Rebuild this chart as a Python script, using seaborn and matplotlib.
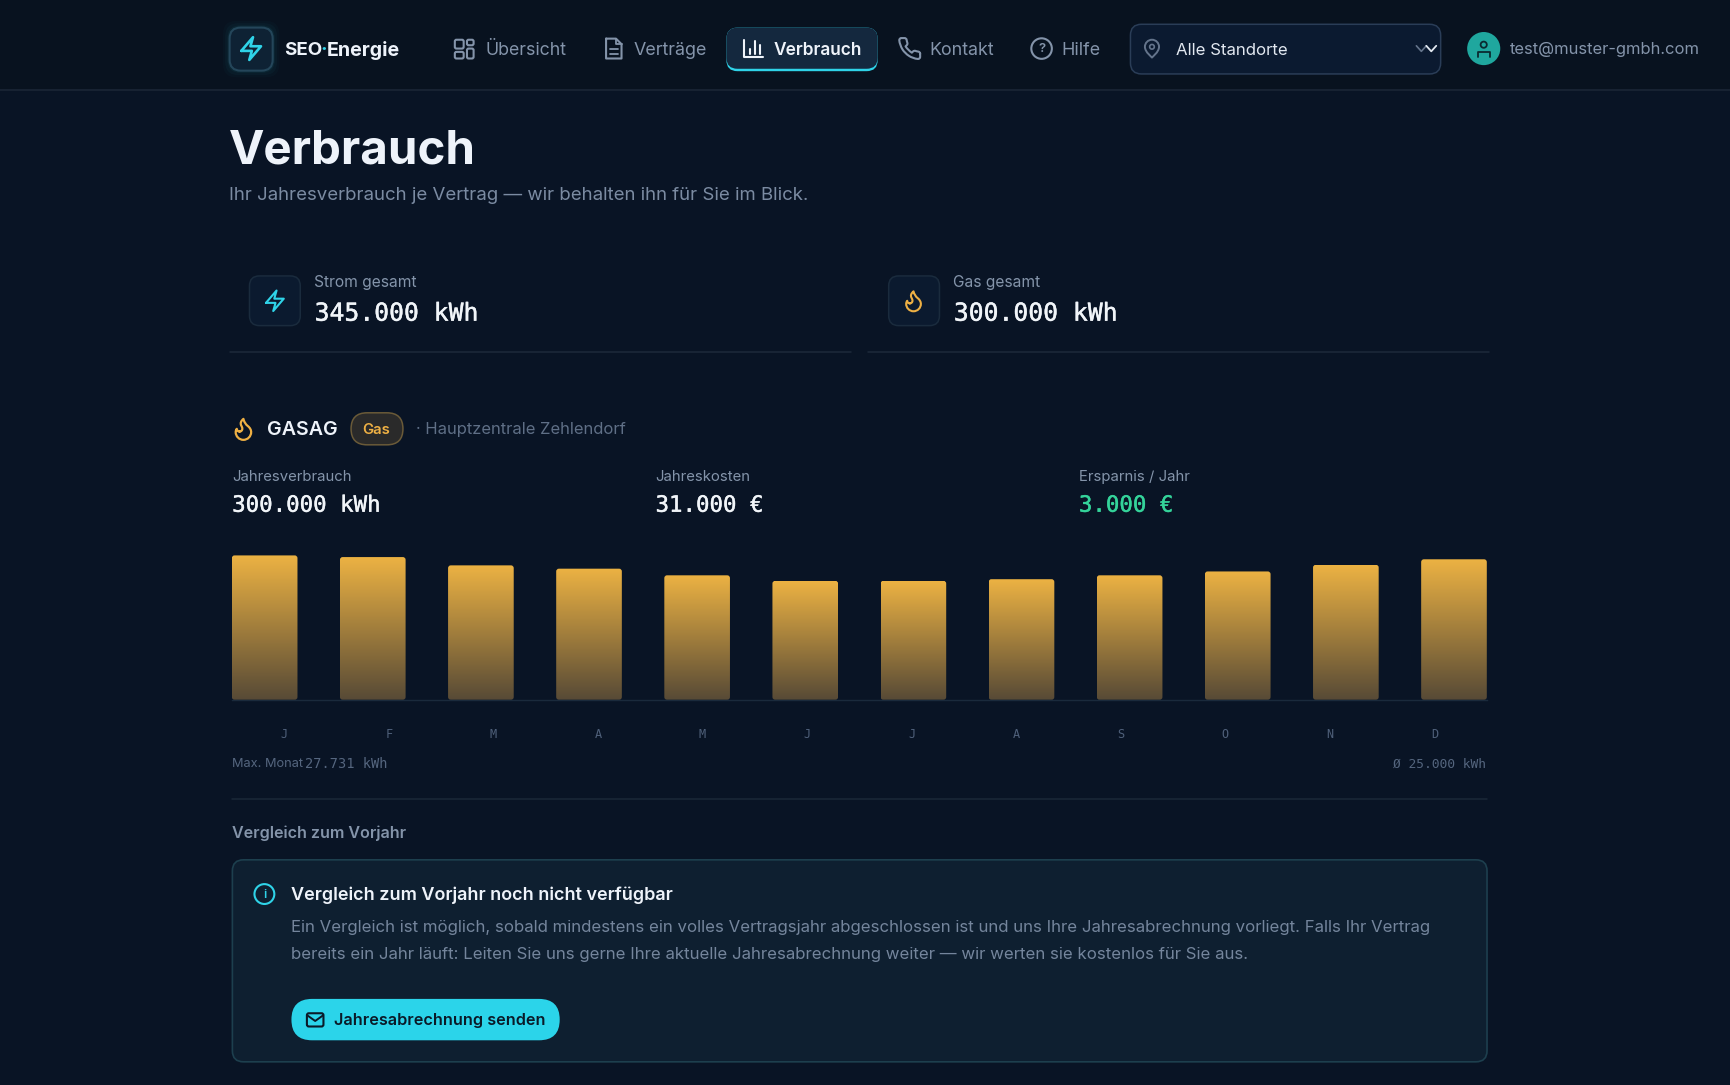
import numpy as np
import pandas as pd
import matplotlib
matplotlib.use("Agg")
import matplotlib.pyplot as plt
import matplotlib.patheffects as pe
from matplotlib.patches import FancyBboxPatch, Circle, PathPatch
from matplotlib.path import Path
import seaborn as sns

# ---- data ----
month_keys = ["Jan", "Feb", "Mar", "Apr", "May", "Jun", "Jul", "Aug", "Sep", "Oct", "Nov", "Dec"]
month_labels = ["J", "F", "M", "A", "M", "J", "J", "A", "S", "O", "N", "D"]
gas_kwh = [27731, 27413, 25820, 25183, 23908, 22845, 22845, 23163, 23908, 24651, 25926, 26988]

nav_items = ["Übersicht", "Verträge", "Verbrauch", "Kontakt", "Hilfe"]
kpi_labels = ["Strom gesamt", "Gas gesamt"]
kpi_values = ["345.000 kWh", "300.000 kWh"]
stat_labels = ["Jahresverbrauch", "Jahreskosten", "Ersparnis / Jahr"]
stat_values = ["300.000 kWh", "31.000 €", "3.000 €"]

W, H = 1731, 1085
DW, DH = 1568.0, 983.0
BG = "#091425"
CYAN = "#2fd3e8"
AMBER = "#eeb044"
MUTED = "#8494aa"
WHITE = "#eef3fa"
SANS = ["Inter", "DejaVu Sans"]
MONO = ["DejaVu Sans Mono"]

sns.set_theme(style="dark", rc={"axes.facecolor": "none", "figure.facecolor": BG})
plt.rcParams["font.family"] = SANS

fig = plt.figure(figsize=(W / 100, H / 100), dpi=100, facecolor=BG)
ui = fig.add_axes([0, 0, 1, 1], zorder=0)
ui.set_xlim(0, DW)
ui.set_ylim(DH, 0)
ui.axis("off")


def fs(px):
    return px * 1.104 * 0.72


def T(x, y, s, px, color=MUTED, weight="normal", family=None, ha="left", va="center", **kw):
    return ui.text(x, y + 1.2, s, fontsize=fs(px), color=color, fontweight=weight,
                   family=family or SANS, ha=ha, va=va, **kw)


def TM(x, y, s, px, color, **kw):
    t = T(x, y, s, px, color, family=MONO, **kw)
    t.set_path_effects([pe.withStroke(linewidth=0.3, foreground=color)])
    return t


def RR(x0, y0, x1, y1, r, fc="none", ec="none", lw=1.0, z=2, **kw):
    p = FancyBboxPatch((x0, y0), x1 - x0, y1 - y0, boxstyle=f"round,pad=0,rounding_size={r}",
                       fc=fc, ec=ec, lw=lw, zorder=z, **kw)
    ui.add_patch(p)
    return p


def L(xs, ys, color, lw=1.0, z=3, **kw):
    ui.plot(xs, ys, color=color, lw=lw, zorder=z, solid_capstyle="round", solid_joinstyle="round", **kw)


def icon(cx, cy, s, verts, codes, color, lw=1.5):
    """Draw a 24-grid line icon centred on (cx, cy)."""
    v = (np.array(verts, float) - 12) * s + [cx, cy]
    ui.add_patch(PathPatch(Path(v, codes), fc="none", ec=color, lw=lw, zorder=3,
                           joinstyle="round", capstyle="round"))


M_, L_, Q_, C_ = Path.MOVETO, Path.LINETO, Path.CURVE3, Path.CURVE4
BOLT_V = [(3.5, 14), (13.6, 2.2), (11.4, 10), (20.5, 10), (10.4, 21.8), (12.6, 14), (3.5, 14)]
BOLT_C = [M_] + [L_] * 6
FLAME_V = [(8.5, 14.5), (9.88, 14.5), (11, 13.38), (11, 12), (11, 10.62), (10.5, 10), (10, 9),
           (8.928, 6.857), (9.776, 4.946), (12, 3), (12.5, 5.5), (14, 7.9), (16, 9.5),
           (18, 11.1), (19, 13), (19, 15), (19, 18.87), (15.87, 22), (12, 22),
           (8.13, 22), (5, 18.87), (5, 15), (5, 13.847), (5.433, 12.706), (6, 12),
           (6, 13.38), (7.12, 14.5), (8.5, 14.5)]
FLAME_C = [M_] + [C_] * 27
PHONE_V = [(22, 16.92), (22, 19.92), (22, 22), (19.82, 21.92), (15, 21.5), (11.19, 18.85),
           (7.5, 16.5), (5.19, 12.85), (2.5, 8.5), (2.12, 4.18), (2, 2), (4.11, 2), (7.11, 2),
           (8.9, 2), (9.11, 3.72), (9.3, 5.2), (9.81, 6.53), (10.2, 7.8), (9.36, 8.64), (8.09, 9.91),
           (10.5, 13.6), (14.09, 15.91), (15.36, 14.64), (16.2, 13.8), (17.47, 14.19),
           (18.8, 14.7), (20.28, 14.89), (22, 15.2), (22, 16.92)]
PHONE_C = [M_, L_, Q_, Q_, Q_, Q_, Q_, Q_, Q_, Q_, Q_, Q_, L_, Q_, Q_, Q_, Q_, Q_, Q_, L_,
           Q_, Q_, L_, Q_, Q_, Q_, Q_, Q_, Q_]
PIN_V = [(12, 22), (12, 22), (20, 16), (20, 10), (20, 5.58), (16.42, 2), (12, 2),
         (7.58, 2), (4, 5.58), (4, 10), (4, 16), (12, 22), (12, 22)]
PIN_C = [M_] + [C_] * 12


def circle(cx, cy, r, fc="none", ec="none", lw=1.4, z=3):
    ui.add_patch(Circle((cx, cy), r, fc=fc, ec=ec, lw=lw, zorder=z))


# ---- nav bar ----
ui.fill_between([0, DW], 0, 81, color="#08121f", zorder=0, lw=0)
L([0, DW], [81.5, 81.5], "#1c2736", 1.1, z=1)

for i, a in enumerate([0.05, 0.08, 0.12]):
    RR(208 - (3 - i) * 2, 25 - (3 - i) * 2, 247 + (3 - i) * 2, 64 + (3 - i) * 2, 12, fc=CYAN, alpha=a * 0.45)
RR(208, 25, 247, 64, 10, fc="#0e2234", ec="#24465a", lw=1.5)
icon(227.5, 44, 1.05, BOLT_V, BOLT_C, CYAN, 1.9)
T(257.3, 44.5, "SEO", 17, WHITE, "bold")
T(293.5, 44.5, "·", 18, CYAN, "bold", ha="center")
T(296, 44.5, "Energie", 17.8, WHITE, "bold")

# nav: Übersicht
for (x0, y0, x1, y1) in [(412, 36, 420, 44), (423, 36, 429, 41), (412, 47, 420, 53), (423, 44, 429, 53)]:
    RR(x0, y0, x1, y1, 1.5, ec=MUTED, lw=1.5, z=3)
T(439.5, 44.8, nav_items[0], 16.1)
# nav: Verträge
doc = np.array([[549, 35], [558, 35], [563, 40], [563, 53], [549, 53], [549, 35]])
L(doc[:, 0], doc[:, 1], MUTED, 1.5)
L([558, 558, 563], [35, 40, 40], MUTED, 1.3)
L([552.5, 559.5], [44, 44], MUTED, 1.3)
L([552.5, 559.5], [48.5, 48.5], MUTED, 1.3)
T(574, 44.8, nav_items[1], 16.2)
# nav: Verbrauch (active)
RR(658, 25, 795, 64.5, 10, fc=CYAN, z=2)
RR(658, 25, 795, 62.3, 10, fc="#14283e", z=2.5)
L([674, 674, 691], [36, 52, 52], WHITE, 1.5)
L([679, 679], [44, 49], WHITE, 1.5)
L([683.5, 683.5], [37, 49], WHITE, 1.5)
L([688, 688], [41, 49], WHITE, 1.5)
T(701, 44.8, nav_items[2], 15.7, WHITE, "semibold", zorder=4)
# nav: Kontakt
icon(824, 44, 0.95, PHONE_V, PHONE_C, MUTED, 1.5)
T(842, 44.8, nav_items[3], 16.2)
# nav: Hilfe
circle(943.5, 44, 9.3, ec=MUTED, lw=1.5)
T(943.5, 43, "?", 12, MUTED, "semibold", ha="center")
T(961, 44.8, nav_items[4], 16.2)

# site selector
RR(1024, 22, 1305, 67, 10, fc="#0b1a30", ec="#2a3d57", lw=1.1)
icon(1043.5, 44, 0.8, PIN_V, PIN_C, "#64748b", 1.4)
circle(1043.5, 42.4, 2.1, ec="#64748b", lw=1.2)
T(1065.5, 44.3, "Alle Standorte", 15.2, "#e2e8f0")
L([1283, 1287.5, 1292], [41.5, 46.5, 41.5], "#64748b", 1.2)
L([1292, 1296.5, 1301], [41.5, 46.5, 41.5], "#e2e8f0", 1.3)

# user
circle(1344, 44, 15, fc="#1fa79e")
circle(1344, 40.5, 2.8, ec="#0a2a30", lw=1.3, z=4)
ui.plot([1338.5, 1338.5, 1349.5, 1349.5], [52, 47, 47, 52], color="#0a2a30", lw=1.3, zorder=4)
T(1367.7, 43.8, "test@muster-gmbh.com", 15, MUTED)

# ---- heading ----
T(207.5, 136.5, "Verbrauch", 43, WHITE, "bold")
T(207.5, 176, "Ihr Jahresverbrauch je Vertrag — wir behalten ihn für Sie im Blick.", 16.88, "#7b8ba2")

# ---- KPI cards ----
L([208, 771], [318.5, 318.5], "#1d2a3a", 1.1, z=1)
L([786, 1349], [318.5, 318.5], "#1d2a3a", 1.1, z=1)
for x0 in (226, 805):
    RR(x0, 250, x0 + 46, 295, 9, fc="#0b1a2f", ec="#1a2b3d", lw=1.1)
icon(249, 272.5, 0.95, BOLT_V, BOLT_C, CYAN, 1.5)
icon(827.5, 272.5, 0.95, FLAME_V, FLAME_C, AMBER, 1.5)
T(284.5, 254.5, kpi_labels[0], 14.1)
T(863.5, 254.5, kpi_labels[1], 14.1)
TM(285, 283, kpi_values[0], 22.4, "#f1f5f9")
TM(864, 283, kpi_values[1], 22.4, "#f1f5f9")

# ---- contract header ----
icon(220.5, 388.5, 1.0, FLAME_V, FLAME_C, AMBER, 1.6)
T(242, 388, "GASAG", 17.8, WHITE, "semibold")
RR(318, 374, 365, 403, 14.5, fc="#2a2a2a", ec="#6a5a38", lw=1.1)
T(341, 388, "Gas", 13.5, AMBER, "semibold", ha="center")
T(376.5, 387.8, "· Hauptzentrale Zehlendorf", 15, "#5f6f86")

stat_x = [210, 593.5, 977]
stat_colors = ["#f1f5f9", "#f1f5f9", "#34d39a"]
for x, lab, val, col in zip(stat_x, stat_labels, stat_values, stat_colors):
    T(x, 430.8, lab, 13.5)
    TM(x + 0.3, 457, val, 20.3, col)

# ---- chart ----
CH_L, CH_R, CH_T, CH_B = 210.0, 1346.8, 503.2, 634.0
ax = fig.add_axes([CH_L / DW, 1 - CH_B / DH, (CH_R - CH_L) / DW, (CH_B - CH_T) / DH], zorder=1)
df = pd.DataFrame({"month": month_keys, "kwh": gas_kwh})
bar_w = 59.5 / 98.0
sns.barplot(data=df, x="month", y="kwh", order=month_keys, width=bar_w, color=AMBER, ax=ax,
            saturation=1, legend=False)
x_lo, x_hi = -bar_w / 2, 11 + bar_w / 2
ax.set_xlim(x_lo, x_hi)
ax.set_ylim(0, max(gas_kwh))
ax.set_xlabel("")
ax.set_ylabel("")
ax.set_yticks([])
ax.grid(False)
for s in ax.spines.values():
    s.set_visible(False)
ax.patch.set_alpha(0)
step = (x_hi - x_lo) / len(month_labels)
ax.set_xticks([x_lo + step * (i + 0.5) for i in range(len(month_labels))], month_labels)
ax.tick_params(axis="x", length=0, pad=(665 - 634 - 5) * 1.104 * 0.72, labelsize=fs(10.8), labelcolor="#4f607a")
for t in ax.get_xticklabels():
    t.set_family(MONO)
    t.set_verticalalignment("top")
ax.spines["bottom"].set_visible(True)
ax.spines["bottom"].set_color("#1a2a3c")
ax.spines["bottom"].set_linewidth(1.0)

fig.canvas.draw()
to_ui = ax.transData + ui.transData.inverted()
top_rgb = np.array(matplotlib.colors.to_rgb("#ecb243"))
bot_rgb = np.array(matplotlib.colors.to_rgb("#574a36"))
grad = np.linspace(0, 1, 256)[:, None, None] * (bot_rgb - top_rgb)[None, None, :] + top_rgb
for bar in list(ax.patches):
    x0, x1 = bar.get_x(), bar.get_x() + bar.get_width()
    h = bar.get_height()
    (ux0, uy0), (ux1, uy1) = to_ui.transform([(x0, h), (x1, 0)])
    clip = FancyBboxPatch((ux0, uy0), ux1 - ux0, uy1 - uy0, boxstyle="round,pad=0,rounding_size=2.5",
                          transform=ui.transData, fc="none", ec="none")
    im = ax.imshow(grad, extent=(x0, x1, 0, h), aspect="auto", origin="upper", zorder=2, interpolation="bilinear")
    im.set_clip_path(clip)
    bar.set_alpha(0)
ax.set_xlim(x_lo, x_hi)
ax.set_ylim(0, max(gas_kwh))

# chart notes
T(210.2, 691, "Max. Monat", 11.6, "#55667f")
T(276, 691, "27.731 kWh", 12.4, "#55667f", family=MONO)
T(1346.5, 691, "Ø 25.000 kWh", 11.7, "#55667f", family=MONO, ha="right")

# ---- comparison section ----
L([210.5, 1347], [724, 724], "#1b2838", 1.1, z=1)
T(210.2, 753.5, "Vergleich zum Vorjahr", 14.55, "#8494aa", "semibold")
RR(210.5, 779, 1347, 962, 10, fc="#0e1f30", ec="#1d3f4e", lw=1.2, z=1)
circle(239.5, 810, 9, ec=CYAN, lw=1.5)
T(239.5, 809.3, "i", 11, CYAN, "semibold", ha="center")
T(263.7, 810, "Vergleich zum Vorjahr noch nicht verfügbar", 16.3, WHITE, "semibold")
T(263.7, 839, "Ein Vergleich ist möglich, sobald mindestens ein volles Vertragsjahr abgeschlossen ist und uns Ihre Jahresabrechnung vorliegt. Falls Ihr Vertrag", 15.23, "#74859c")
T(263.7, 864, "bereits ein Jahr läuft: Leiten Sie uns gerne Ihre aktuelle Jahresabrechnung weiter — wir werten sie kostenlos für Sie aus.", 15.23, "#74859c")
RR(264, 905, 507, 942.5, 18.7, fc="#2bd4ea", z=2)
RR(278, 918, 293, 930, 1.8, ec="#0a1a28", lw=1.5, z=3)
L([278.5, 285.5, 292.5], [920, 925, 920], "#0a1a28", 1.4)
T(303, 923.8, "Jahresabrechnung senden", 14.7, "#0a1a28", "semibold")

fig.savefig("out.png", dpi=100, facecolor=BG)
